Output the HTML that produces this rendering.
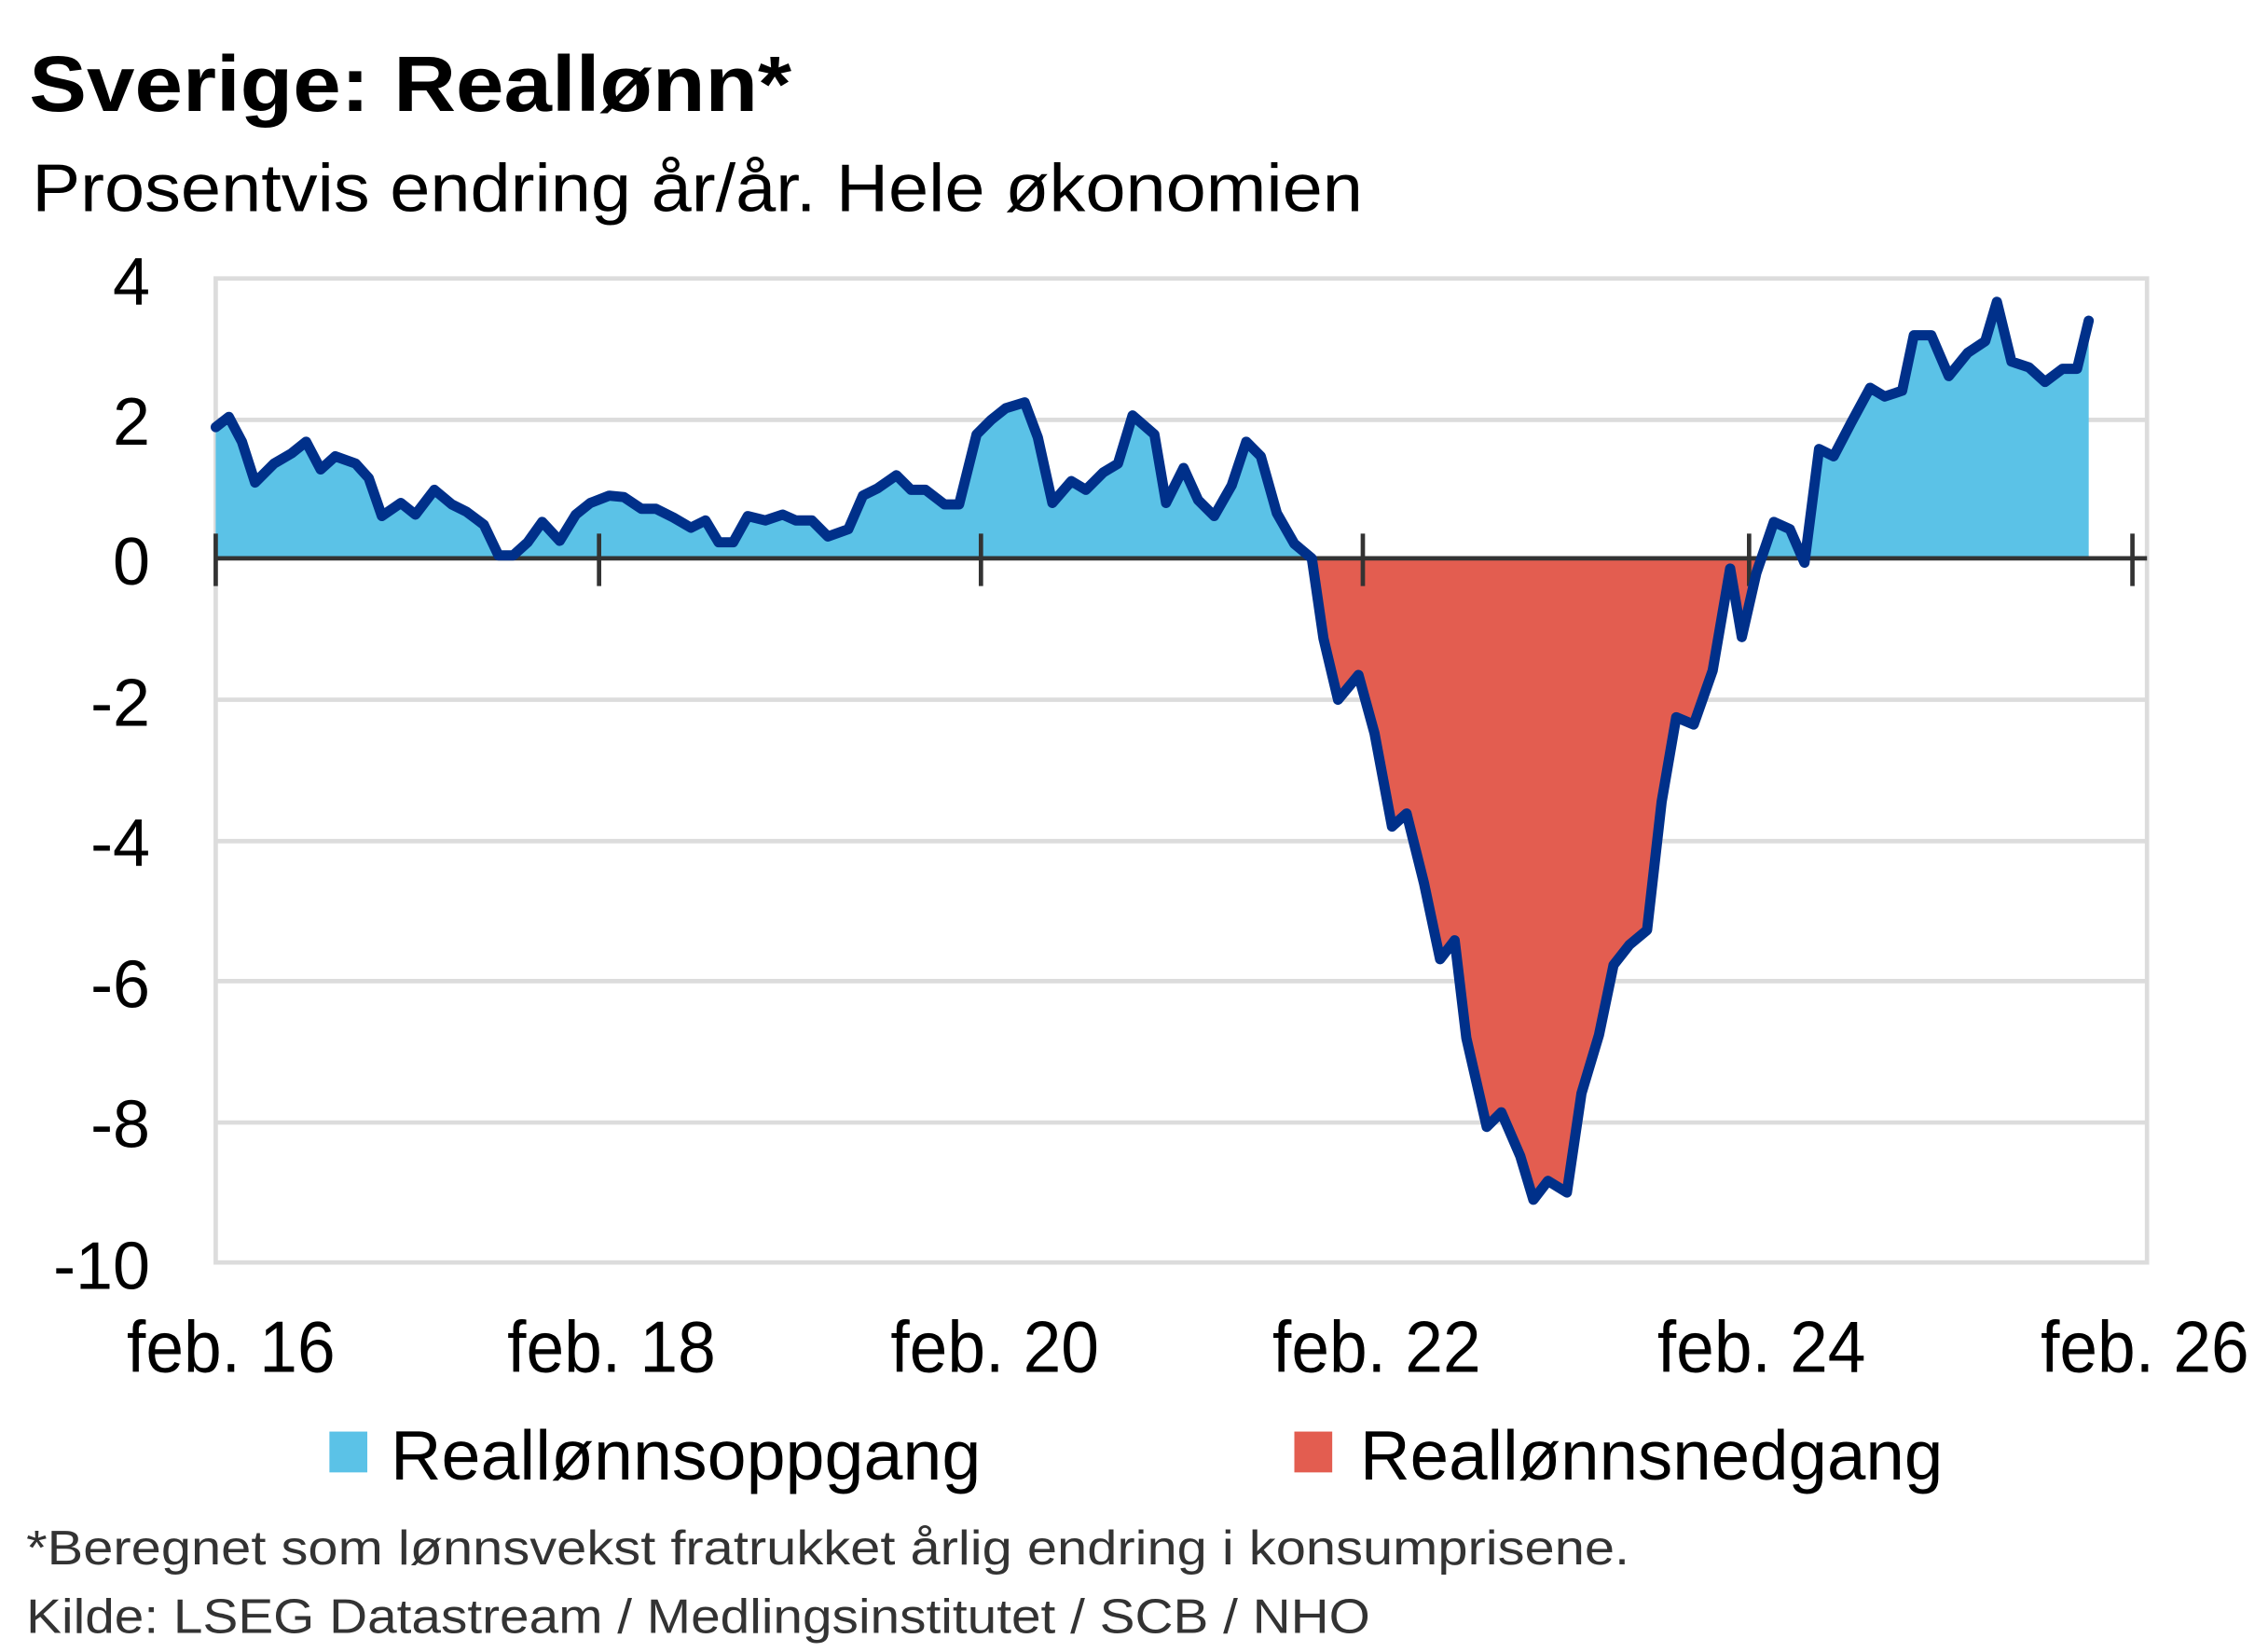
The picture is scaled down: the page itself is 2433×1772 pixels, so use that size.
<!DOCTYPE html>
<html><head><meta charset="utf-8"><style>html,body{margin:0;padding:0;background:#fff}svg{display:block}</style></head>
<body>
<svg width="2433" height="1772" viewBox="0 0 1556 1133.2" preserveAspectRatio="none" xmlns="http://www.w3.org/2000/svg" font-family="Liberation Sans, sans-serif">
<defs>
<clipPath id="up"><rect x="0" y="0" width="1556" height="383"/></clipPath>
<clipPath id="dn"><rect x="0" y="383" width="1556" height="700"/></clipPath>
<polygon id="area" points="148,383 148,293 157,286 166,303 175,331 188,318 200,311 210,303 220,322 230,313 244,318 253,328 262,354 275,345 285,353 298,336 310,346 320,351 332,360 342,381 352,381 362,372 372,358 384,371 395,353 405,345 418,340 428,341 440,349 450,349 462,355 474,362 484,357 493,372 503,372 513,354 525,357 537,353 546,357 557,357 568,368 582,363 592,340 602,335 615,326 625,336 635,336 648,346 658,346 670,298 680,288 690,280 703,276 712,300 722,345 735,330 745,336 757,324 767,318 777,285 792,298 800,345 812,321 822,343 833,354 845,333 855,303 865,313 876,352 888,373 900,383 908,438 918,480 932,463 943,503 955,567 965,558 977,606 988,658 998,645 1006,712 1020,773 1030,763 1043,793 1052,823 1062,810 1075,818 1085,750 1097,710 1107,662 1118,648 1130,638 1140,550 1150,492 1162,497 1175,460 1187,390 1195,437 1205,393 1217,358 1228,363 1238,386 1248,308 1258,313 1270,290 1283,266 1293,272 1305,268 1313,230 1325,230 1337,258 1350,242 1362,234 1370,207 1380,248 1392,252 1403,262 1415,253 1425,253 1433,220 1433,383"/>
</defs>
<text x="20" y="76" font-size="54" font-weight="bold" textLength="523" lengthAdjust="spacingAndGlyphs">Sverige:  Reallønn*</text>
<text x="22" y="145" font-size="46" textLength="913" lengthAdjust="spacingAndGlyphs">Prosentvis endring år/år. Hele økonomien</text>
<g stroke="#dcdcdc" stroke-width="3" fill="none">
<rect x="148" y="191" width="1325" height="675"/>
<line x1="148" y1="288" x2="1473" y2="288"/>
<line x1="148" y1="480" x2="1473" y2="480"/>
<line x1="148" y1="577" x2="1473" y2="577"/>
<line x1="148" y1="673" x2="1473" y2="673"/>
<line x1="148" y1="770" x2="1473" y2="770"/>
</g>
<g font-size="46" text-anchor="end">
<text x="103" y="209">4</text><text x="103" y="305">2</text><text x="103" y="401">0</text>
<text x="103" y="498">-2</text><text x="103" y="594">-4</text><text x="103" y="691">-6</text>
<text x="103" y="787">-8</text><text x="103" y="884">-10</text>
</g>
<use href="#area" fill="#5BC2E7" clip-path="url(#up)"/>
<use href="#area" fill="#E35D50" clip-path="url(#dn)"/>
<g stroke="#333" stroke-width="3">
<line x1="148" y1="383" x2="1473" y2="383"/>
<line x1="148" y1="366" x2="148" y2="402"/><line x1="411" y1="366" x2="411" y2="402"/>
<line x1="673" y1="366" x2="673" y2="402"/><line x1="935" y1="366" x2="935" y2="402"/>
<line x1="1200" y1="366" x2="1200" y2="402"/><line x1="1463" y1="366" x2="1463" y2="402"/>
</g>
<polyline points="148,293 157,286 166,303 175,331 188,318 200,311 210,303 220,322 230,313 244,318 253,328 262,354 275,345 285,353 298,336 310,346 320,351 332,360 342,381 352,381 362,372 372,358 384,371 395,353 405,345 418,340 428,341 440,349 450,349 462,355 474,362 484,357 493,372 503,372 513,354 525,357 537,353 546,357 557,357 568,368 582,363 592,340 602,335 615,326 625,336 635,336 648,346 658,346 670,298 680,288 690,280 703,276 712,300 722,345 735,330 745,336 757,324 767,318 777,285 792,298 800,345 812,321 822,343 833,354 845,333 855,303 865,313 876,352 888,373 900,383 908,438 918,480 932,463 943,503 955,567 965,558 977,606 988,658 998,645 1006,712 1020,773 1030,763 1043,793 1052,823 1062,810 1075,818 1085,750 1097,710 1107,662 1118,648 1130,638 1140,550 1150,492 1162,497 1175,460 1187,390 1195,437 1205,393 1217,358 1228,363 1238,386 1248,308 1258,313 1270,290 1283,266 1293,272 1305,268 1313,230 1325,230 1337,258 1350,242 1362,234 1370,207 1380,248 1392,252 1403,262 1415,253 1425,253 1433,220" fill="none" stroke="#00308A" stroke-width="7" stroke-linejoin="round" stroke-linecap="round"/>
<g font-size="50">
<text x="87" y="941" textLength="143" lengthAdjust="spacingAndGlyphs">feb. 16</text>
<text x="348" y="941" textLength="143" lengthAdjust="spacingAndGlyphs">feb. 18</text>
<text x="611" y="941" textLength="143" lengthAdjust="spacingAndGlyphs">feb. 20</text>
<text x="873" y="941" textLength="143" lengthAdjust="spacingAndGlyphs">feb. 22</text>
<text x="1137" y="941" textLength="143" lengthAdjust="spacingAndGlyphs">feb. 24</text>
<text x="1400" y="941" textLength="143" lengthAdjust="spacingAndGlyphs">feb. 26</text>
</g>
<rect x="226" y="982" width="26" height="28" fill="#5BC2E7"/>
<rect x="888" y="982" width="26" height="28" fill="#E35D50"/>
<g font-size="48">
<text x="268" y="1015" textLength="405" lengthAdjust="spacingAndGlyphs">Reallønnsoppgang</text>
<text x="933" y="1015" textLength="400" lengthAdjust="spacingAndGlyphs">Reallønnsnedgang</text>
</g>
<g font-size="33" fill="#333">
<text x="18" y="1073" textLength="1100" lengthAdjust="spacingAndGlyphs">*Beregnet som lønnsvekst fratrukket årlig endring i konsumprisene.</text>
<text x="18" y="1120" textLength="922" lengthAdjust="spacingAndGlyphs">Kilde: LSEG Datastream / Medlingsinstitutet / SCB / NHO</text>
</g>
</svg>
</body></html>
